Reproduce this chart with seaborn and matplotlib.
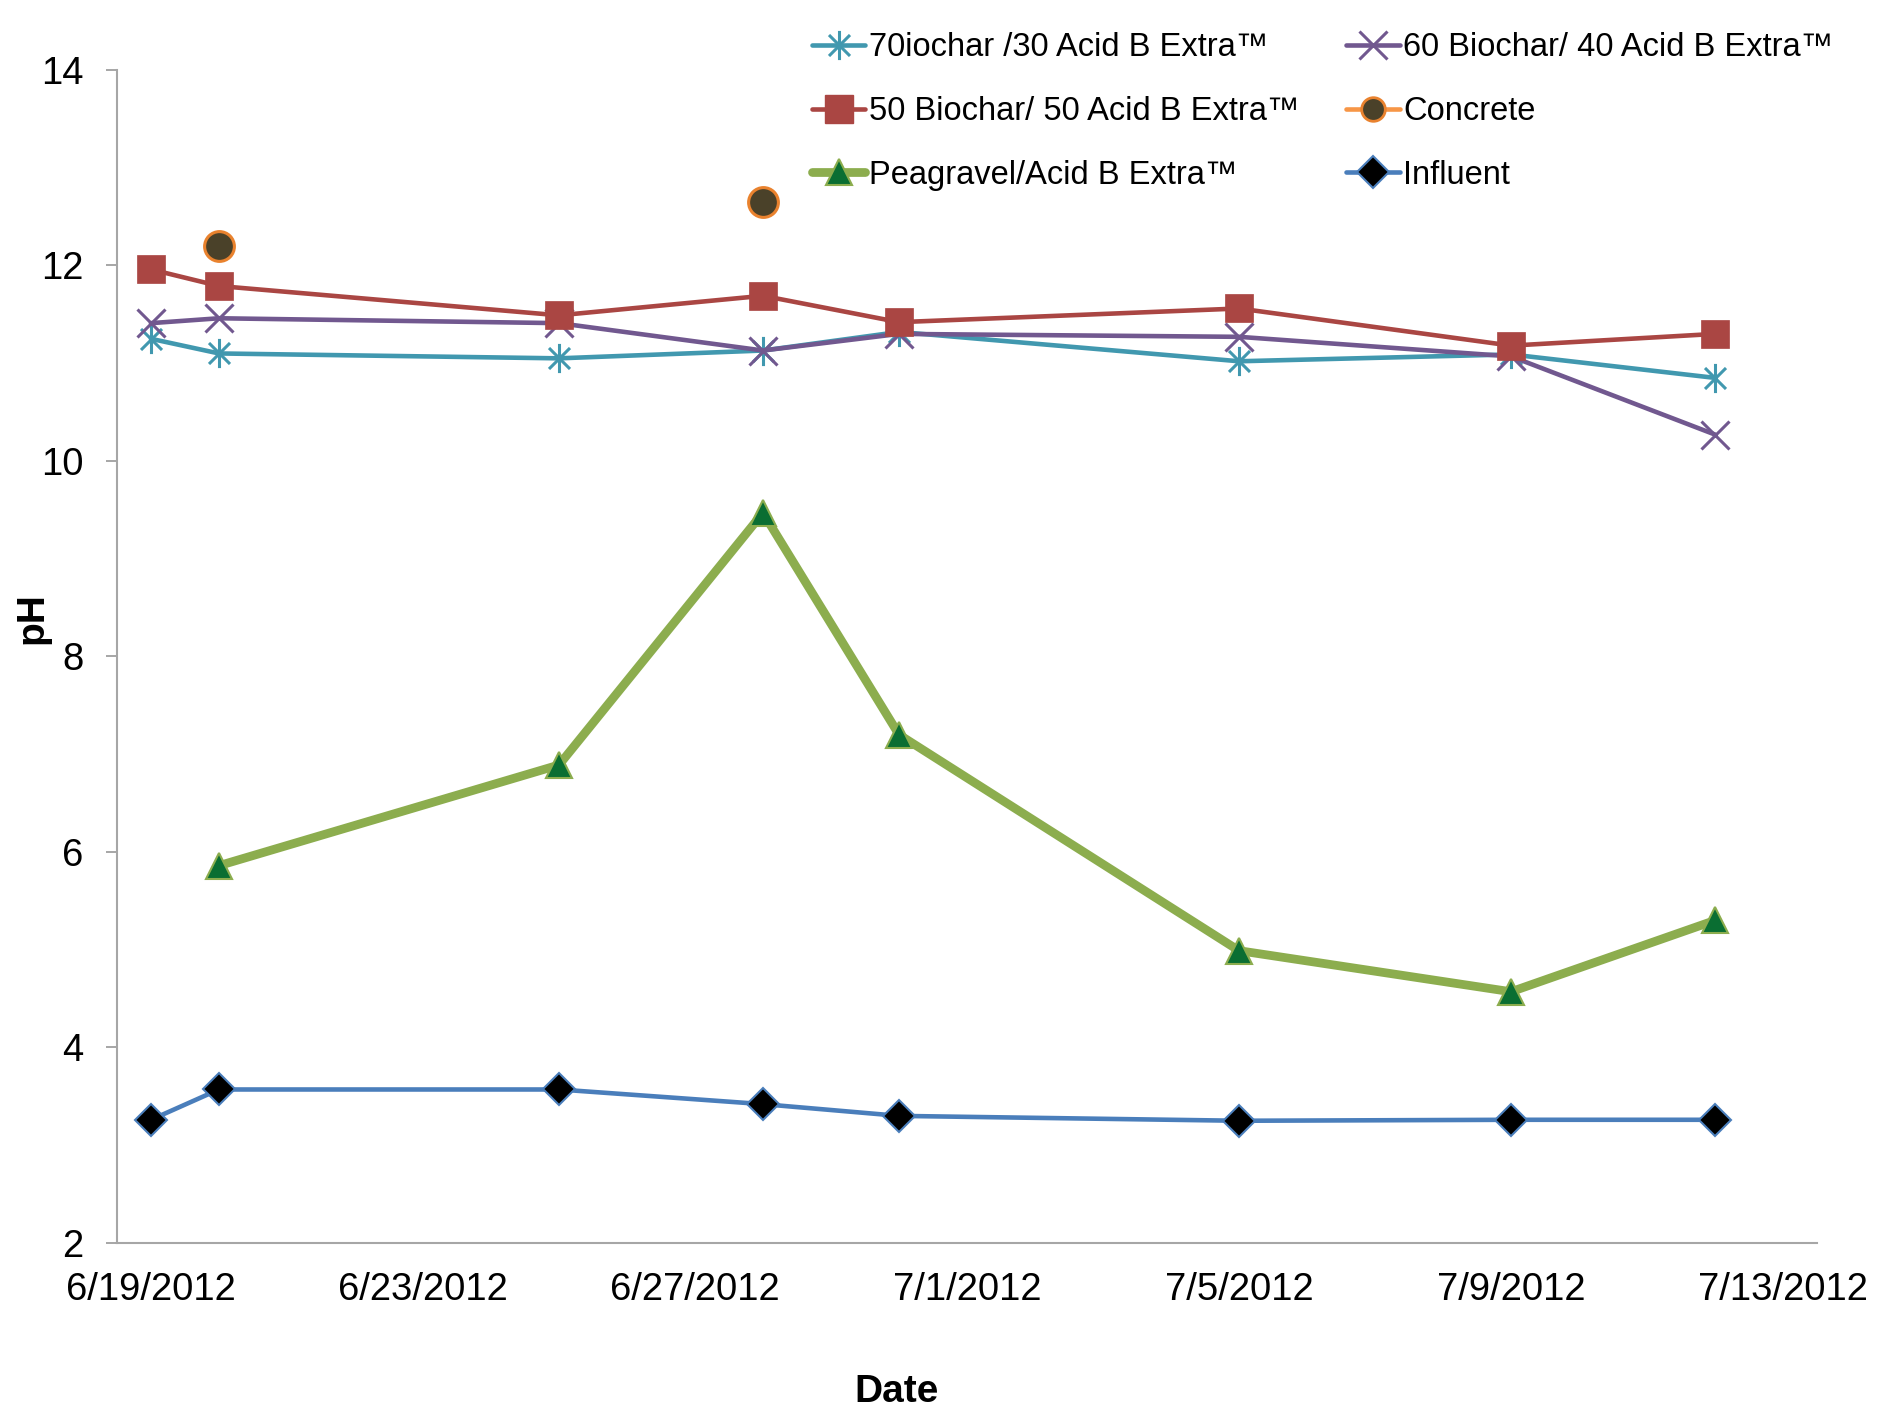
import pandas as pd
import numpy as np
import matplotlib
matplotlib.use("Agg")
import matplotlib.pyplot as plt
import matplotlib.dates as mdates
from matplotlib.lines import Line2D
from matplotlib.path import Path
import seaborn as sns

# sample dates and pH readings
dates = pd.to_datetime(['2012-06-19', '2012-06-20', '2012-06-25', '2012-06-28',
                        '2012-06-30', '2012-07-05', '2012-07-09', '2012-07-12'])
ph_70 = [11.25, 11.10, 11.05, 11.13, 11.32, 11.02, 11.09, 10.85]
ph_60 = [11.41, 11.46, 11.41, 11.13, 11.30, 11.27, 11.07, 10.27]
ph_50 = [11.96, 11.79, 11.49, 11.69, 11.42, 11.56, 11.18, 11.30]
concrete_dates = pd.to_datetime(['2012-06-20', '2012-06-28'])
ph_concrete = [12.20, 12.65]
pea_dates = dates[1:]
ph_pea = [5.86, 6.89, 9.47, 7.20, 4.99, 4.57, 5.30]
ph_influent = [3.26, 3.57, 3.57, 3.42, 3.30, 3.25, 3.26, 3.26]

tick_dates = pd.date_range('2012-06-19', '2012-07-13', freq='4D')
tick_labels = [f"{d.month}/{d.day}/{d.year}" for d in tick_dates]

sns.set_style("white", {'text.color': 'black', 'axes.labelcolor': 'black',
                        'xtick.color': 'black', 'ytick.color': 'black'})
plt.rcParams['font.family'] = ['Liberation Sans', 'DejaVu Sans']

# excel style asterisk: vertical bar + x
star = Path([(0, -1), (0, 1), (-0.72, -0.72), (0.72, 0.72), (-0.72, 0.72), (0.72, -0.72)],
            [Path.MOVETO, Path.LINETO] * 3)

c70 = '#4198AF'
c60 = '#71588F'
c50 = '#AA4643'
c_conc_edge = '#E9822E'
c_conc_fill = '#4A4129'
c_pea = '#8CAD4E'
c_pea_fill = '#0A6E32'
c_inf = '#4A7EBB'

fig = plt.figure(figsize=(18.83, 14.11), dpi=100)
ax = fig.add_axes([0.0621, 0.1191, 0.9029, 0.8313])

sns.lineplot(x=dates, y=ph_70, ax=ax, color=c70, lw=3.3, marker=star, ms=21,
             mec=c70, mew=2.2, zorder=3)
sns.lineplot(x=dates, y=ph_60, ax=ax, color=c60, lw=3.3, marker='x', ms=20,
             mec=c60, mew=2.2, zorder=4)
sns.lineplot(x=dates, y=ph_50, ax=ax, color=c50, lw=3.3, marker='s', ms=20,
             mfc=c50, mec=c50, mew=0.5, zorder=5)
sns.scatterplot(x=concrete_dates, y=ph_concrete, ax=ax, s=460, color=c_conc_fill,
                edgecolor=c_conc_edge, linewidth=2.2, zorder=6)
sns.lineplot(x=pea_dates, y=ph_pea, ax=ax, color=c_pea, lw=6.3, marker='^', ms=19,
             mfc=c_pea_fill, mec=c_pea, mew=1.5, zorder=7)
sns.lineplot(x=dates, y=ph_influent, ax=ax, color=c_inf, lw=3.3, marker='D', ms=16,
             mfc='black', mec=c_inf, mew=1.5, zorder=8)

x0 = mdates.date2num(pd.Timestamp('2012-06-18 12:00'))
x1 = mdates.date2num(pd.Timestamp('2012-07-13 12:00'))
ax.set_xlim(x0, x1)
ax.set_ylim(2, 14)
ax.set_yticks(range(2, 15, 2))

ax.set_xticks(mdates.date2num(tick_dates))
ax.set_xticklabels(tick_labels)
ax.set_xticks(mdates.date2num(tick_dates) - 0.5, minor=True)
ax.tick_params(axis='x', which='major', length=0, pad=21, labelsize=27.5, labelcolor='black')
ax.tick_params(axis='x', which='minor', length=8, width=1.4, color='#A6A6A6', direction='out')
ax.tick_params(axis='y', length=8, width=1.4, color='#A6A6A6', direction='out', pad=16,
               labelsize=27.5, labelcolor='black')
ax.tick_params(bottom=True, left=True)

for s in ['top', 'right']:
    ax.spines[s].set_visible(False)
for s in ['left', 'bottom']:
    ax.spines[s].set_color('#A6A6A6')
    ax.spines[s].set_linewidth(1.5)

ax.set_xlabel('Date', fontsize=28, fontweight='bold', color='black')
ax.set_ylabel('pH', fontsize=28, fontweight='bold', color='black')
ax.xaxis.set_label_coords(0.4587, -0.112)
ax.yaxis.set_label_coords(-0.039, 0.533)

handles = [
    Line2D([], [], color=c70, lw=3.3, marker=star, ms=21, mec=c70, mew=2.2),
    Line2D([], [], color=c50, lw=3.3, marker='s', ms=20, mfc=c50, mec=c50),
    Line2D([], [], color=c_pea, lw=6.3, marker='^', ms=19, mfc=c_pea_fill, mec=c_pea, mew=1.5),
    Line2D([], [], color=c60, lw=3.3, marker='x', ms=20, mec=c60, mew=2.2),
    Line2D([], [], color='#F79646', lw=3.3, marker='o', ms=17, mfc=c_conc_fill, mec=c_conc_edge, mew=2),
    Line2D([], [], color=c_inf, lw=3.3, marker='D', ms=16, mfc='black', mec=c_inf, mew=1.5),
]
labels = ['70iochar /30 Acid B Extra\u2122', '50 Biochar/ 50 Acid B Extra\u2122',
          'Peagravel/Acid B Extra\u2122', '60 Biochar/ 40 Acid B Extra\u2122',
          'Concrete', 'Influent']
leg = fig.legend(handles, labels, ncol=2, loc='upper left', bbox_to_anchor=(0.431, 0.977),
                 frameon=False, fontsize=23.5, handlelength=1.65, handletextpad=0.1,
                 columnspacing=1.43, labelspacing=1.0, borderpad=0, borderaxespad=0,
                 labelcolor='black')

fig.savefig('out.png', dpi=100)
